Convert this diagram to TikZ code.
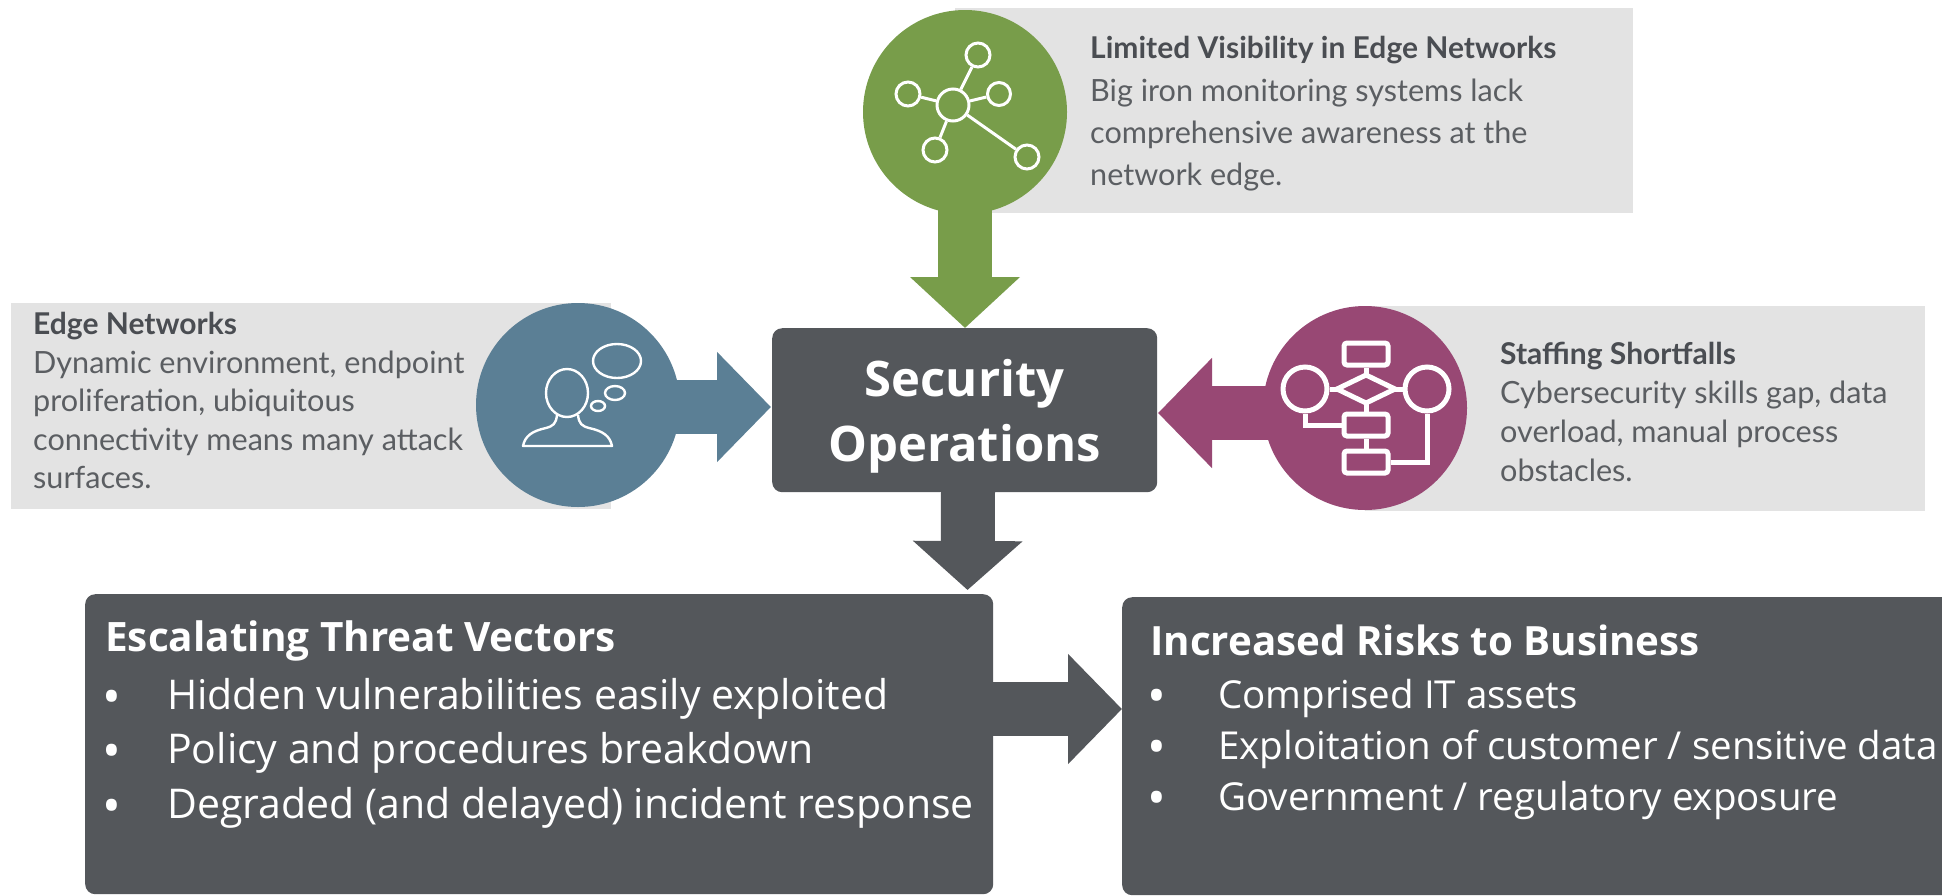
\documentclass[tikz,border=0pt]{standalone}
\usepackage{fontspec}
\setmainfont{Lato}
\newfontfamily\opensans{Open Sans}
\usetikzlibrary{arrows.meta}
\definecolor{dark}{HTML}{54575B}
\definecolor{grayb}{HTML}{E3E3E3}
\definecolor{txt}{HTML}{5B5E62}
\definecolor{ttl}{HTML}{4A4D52}
\definecolor{green}{HTML}{789D4A}
\definecolor{blue}{HTML}{5B7F95}
\definecolor{purple}{HTML}{984874}
\tikzset{
  x=1pt,y=-1pt,
  graybox/.style={fill=grayb,draw=none,inner sep=0pt,anchor=north west},
  disc/.style={circle,draw=none,minimum size=204pt,inner sep=0pt},
  darkbox/.style={fill=dark,draw=none,rounded corners=10pt,inner sep=0pt,anchor=north west},
  blockarrow/.style 2 args={draw=#1,line width=54pt,-{Triangle[length=#2,width=107pt,fill=#1]}},
  infotext/.style={anchor=north west,inner sep=0pt,align=left,text=txt},
  listtext/.style={anchor=north west,inner sep=0pt,align=left,text=white},
  ic/.style={circle,draw=white,fill=none,inner sep=0pt,line width=#1},
  iconline/.style={draw=white,line width=#1},
  frect/.style={draw=white,line width=5pt,rounded corners=3pt,inner sep=0pt,minimum width=44pt,minimum height=22pt},
}
\newcommand{\hd}[1]{{\fontsize{30}{30}\selectfont\bfseries\color{ttl}#1}}
\newcommand{\bl}[1]{\makebox[#1][l]{\hspace*{-3pt}\smash{\raisebox{-5pt}{\fontsize{50}{50}\selectfont •}}}}
\begin{document}
\begin{tikzpicture}
\useasboundingbox (0,0) rectangle (1942,895);
\clip (0,0) rectangle (1942,895);
\fill[white] (0,0) rectangle (1942,895);
% gray panels
\node[graybox,minimum width=678pt,minimum height=205pt] (gtop) at (955,8) {};
\node[graybox,minimum width=600pt,minimum height=206pt] (gleft) at (11,303) {};
\node[graybox,minimum width=560pt,minimum height=205pt] (gright) at (1365,306) {};
% central and bottom boxes
\node[darkbox,minimum width=385pt,minimum height=164pt] (sec) at (772,328) {};
\node[anchor=center,align=center,text=white,font=\fontsize{49}{65}\selectfont\bfseries\opensans] (seclabel) at (964.5,416) {Security\\Operations};
\node[darkbox,minimum width=908pt,minimum height=300pt] (risk) at (85,594) {};
\node[darkbox,minimum width=900pt,minimum height=298pt] (biz) at (1122,597) {};
% discs
\node[disc,fill=green] (cg) at (965,112) {};
\node[disc,fill=blue] (cb) at (578,405) {};
\node[disc,fill=purple] (cp) at (1365,408) {};
% block arrows
\coordinate (tg) at (965,328);
\coordinate (tb) at (771,407);
\coordinate (tp) at (1158,413);
\coordinate (sb) at (968,490);
\coordinate (td) at (967.5,590);
\coordinate (rs) at (990,709);
\coordinate (rt) at (1122,709);
\draw[blockarrow={green}{51pt}] (cg.center) -- (tg);
\draw[blockarrow={blue}{54pt}] (cb.center |- tb) -- (tb);
\draw[blockarrow={purple}{54pt}] (cp.center |- tp) -- (tp);
\draw[blockarrow={dark}{49pt}] (sb) -- (td);
\draw[blockarrow={dark}{54pt}] (rs) -- (rt);
% network icon
\node[ic=3pt,minimum size=32pt] (n0) at (953,105) {};
\node[ic=3pt,minimum size=24pt] (n1) at (978,55) {};
\node[ic=3pt,minimum size=23pt] (n2) at (999,94) {};
\node[ic=3pt,minimum size=24pt] (n3) at (908,94) {};
\node[ic=3pt,minimum size=24pt] (n4) at (935,150) {};
\node[ic=3pt,minimum size=24pt] (n5) at (1027,157) {};
\foreach \n in {n1,n2,n3,n4,n5} \draw[iconline=3pt] (n0) -- (\n);
% person icon
\draw[white,line width=2.4pt] (567,393) ellipse [x radius=21,y radius=24];
\draw[white,line width=2.4pt,line join=round] (557,415) .. controls (556,424) and (553,426) .. (546,428) .. controls (532,431) and (525,436) .. (523,446) -- (612,446) .. controls (610,436) and (603,431) .. (589,428) .. controls (582,426) and (579,424) .. (578,415);
\draw[white,line width=2.4pt] (617,361) ellipse [x radius=24,y radius=17];
\draw[white,line width=2.4pt] (615,393) ellipse [x radius=10,y radius=7];
\draw[white,line width=2.4pt] (598,406) ellipse [x radius=7,y radius=5];
% flow icon
\node[ic=5pt,minimum size=44pt] (fl) at (1305,389) {};
\node[ic=5pt,minimum size=44pt] (fr) at (1427,389) {};
\node[frect] (f1) at (1366,354) {};
\node[frect] (f2) at (1366,425) {};
\node[frect] (f3) at (1366,462) {};
\coordinate (dt) at (1366,375);
\coordinate (dl) at (1337,389);
\coordinate (dr) at (1395,389);
\coordinate (db) at (1366,403);
\draw[iconline=5pt,line join=miter] (dt) -- (dr) -- (db) -- (dl) -- cycle;
\draw[iconline=5pt] (f1) -- (dt) (db) -- (f2) (f2) -- (f3) (dl) -- (fl) (dr) -- (fr);
\draw[iconline=5pt] (fl.south) |- (f2.west);
\draw[iconline=5pt] (fr.south) |- (f3.east);
% texts
\node[infotext,font=\fontsize{30.6}{42}\selectfont] (ttop) at (1090,36) {\hd{Limited Visibility in Edge Networks}\\[1pt]Big iron monitoring systems lack\\comprehensive awareness at the\\network edge.};
\node[infotext,font=\fontsize{30.6}{38.5}\selectfont] (tleft) at (33,312) {\hd{Edge Networks}\\Dynamic environment, endpoint\\proliferation, ubiquitous\\connectivity means many attack\\surfaces.};
\node[infotext,font=\fontsize{30.6}{39}\selectfont] (tright) at (1500,342) {\hd{Staffing Shortfalls}\\Cybersecurity skills gap, data\\overload, manual process\\obstacles.};
\node[listtext,font=\fontsize{41}{54.5}\selectfont\opensans] (lrisk) at (105,621) {{\bfseries\fontsize{40.5}{54.5}\selectfont Escalating Threat Vectors}\\[3pt]\bl{62pt}Hidden vulnerabilities easily exploited\\\bl{62pt}Policy and procedures breakdown\\\bl{62pt}Degraded (and delayed) incident response};
\node[listtext,font=\fontsize{38.5}{51}\selectfont\opensans] (lbiz) at (1150,625) {{\bfseries\fontsize{40.3}{51}\selectfont Increased Risks to Business}\\[2pt]\bl{68pt}Comprised IT assets\\\bl{68pt}Exploitation of customer / sensitive data\\\bl{68pt}Government / regulatory exposure};
\end{tikzpicture}
\end{document}
